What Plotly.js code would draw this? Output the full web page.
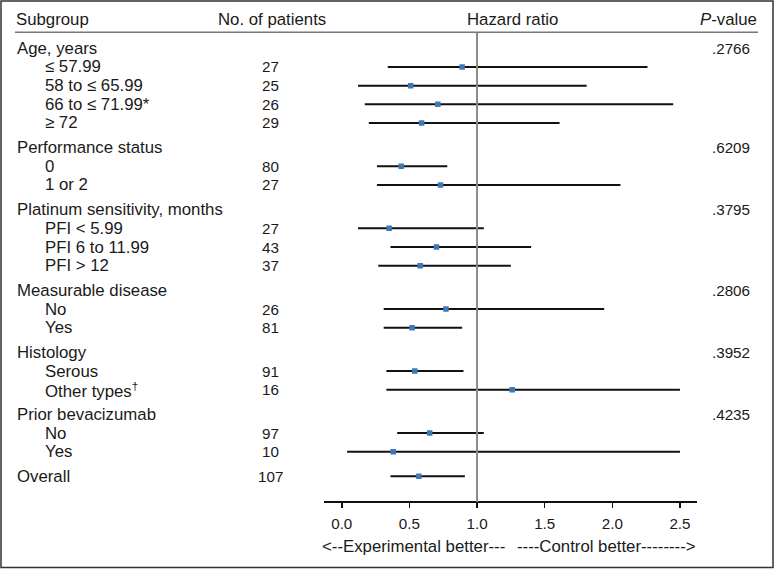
<!DOCTYPE html>
<html>
<head>
<meta charset="utf-8">
<script src="https://cdn.plot.ly/plotly-3.0.1.min.js"></script>
<style>html,body{margin:0;padding:0;background:#fff;}#chart{width:774px;height:569px;}</style>
</head>
<body>
<div id="chart"></div>
<script>
// ---- data ----
const groupNames = ['Age, years', 'Performance status', 'Platinum sensitivity, months', 'Measurable disease', 'Histology', 'Prior bevacizumab'];
const groupPValues = ['.2766', '.6209', '.3795', '.2806', '.3952', '.4235'];
const subLabels = [
  ['\u2264 57.99', '58 to \u2264 65.99', '66 to \u2264 71.99*', '\u2265 72'],
  ['0', '1 or 2'],
  ['PFI < 5.99', 'PFI 6 to 11.99', 'PFI > 12'],
  ['No', 'Yes'],
  ['Serous', 'Other types<sup>\u2020</sup>'],
  ['No', 'Yes']
];
const patients = [[27, 25, 26, 29], [80, 27], [27, 43, 37], [26, 81], [91, 16], [97, 10]];
const hazardRatio = [[0.89, 0.51, 0.71, 0.59], [0.44, 0.73], [0.35, 0.70, 0.58], [0.77, 0.52], [0.54, 1.26], [0.65, 0.38]];
const ciLower = [[0.34, 0.12, 0.17, 0.20], [0.26, 0.26], [0.12, 0.36, 0.27], [0.31, 0.31], [0.33, 0.33], [0.41, 0.04]];
const ciUpper = [[2.26, 1.81, 2.45, 1.61], [0.78, 2.06], [1.05, 1.40, 1.25], [1.94, 0.89], [0.90, 2.50], [1.05, 2.50]];
const overallLabel = 'Overall';
const overallN = 107;
const overallHR = 0.57;
const overallLower = 0.36;
const overallUpper = 0.91;
const xTickVals = [0, 0.5, 1, 1.5, 2, 2.5];
const xTickText = ['0.0', '0.5', '1.0', '1.5', '2.0', '2.5'];
const headers = {subgroup: 'Subgroup', patients: 'No. of patients', hr: 'Hazard ratio', p: '<i>P</i>-value'};
const directionLeft = '<--Experimental better---';
const directionRight = '----Control better-------->';

// ---- layout helpers ----
const W = 774, H = 569;
const ROW = 18.67;          // px per row
const GAP = 6 / ROW;        // extra gap between groups, in rows
const TOP = 48.3;           // pixel of first row
const px = v => v / W;
const py = v => 1 - v / H;
const FONT = 'Liberation Sans, Arial, sans-serif';
const LABEL_SIZE = 16.8, NUM_SIZE = 15.2;

const annotations = [];
function addText(text, x, y, xanchor, size, yref) {
  annotations.push({
    text: text, x: x, y: y, xref: 'paper', yref: yref || 'y',
    xanchor: xanchor, yanchor: 'middle', showarrow: false,
    font: {family: FONT, size: size, color: '#1a1a1a'}
  });
}

const ciX = [], ciY = [], ptX = [], ptY = [];
let pos = 0;
groupNames.forEach((g, gi) => {
  addText(g, px(15), pos, 'left', LABEL_SIZE);
  addText(groupPValues[gi], px(752), pos, 'right', NUM_SIZE);
  subLabels[gi].forEach((lab, si) => {
    pos += 1;
    addText(lab, px(43), pos, 'left', LABEL_SIZE);
    addText(String(patients[gi][si]), px(270.5), pos, 'center', NUM_SIZE);
    ciX.push(ciLower[gi][si], ciUpper[gi][si], null);
    ciY.push(pos, pos, null);
    ptX.push(hazardRatio[gi][si]);
    ptY.push(pos);
  });
  pos += 1 + GAP;
});
addText(overallLabel, px(15), pos, 'left', LABEL_SIZE);
addText(String(overallN), px(270.5), pos, 'center', NUM_SIZE);
ciX.push(overallLower, overallUpper, null);
ciY.push(pos, pos, null);
ptX.push(overallHR);
ptY.push(pos);

// headers
addText(headers.subgroup, px(14), py(20), 'left', LABEL_SIZE, 'paper');
addText(headers.patients, px(216), py(20), 'left', LABEL_SIZE, 'paper');
addText(headers.hr, px(512.6), py(20), 'center', LABEL_SIZE, 'paper');
addText(headers.p, px(759), py(20), 'right', LABEL_SIZE, 'paper');
addText(directionLeft, px(320), py(546), 'left', LABEL_SIZE, 'paper');
addText(directionRight, px(698), py(546), 'right', LABEL_SIZE, 'paper');

const traces = [
  {x: ciX, y: ciY, mode: 'lines', type: 'scatter', line: {color: '#111', width: 2}, hoverinfo: 'skip', showlegend: false},
  {x: ptX, y: ptY, mode: 'markers', type: 'scatter', marker: {symbol: 'square', size: 5.5, color: '#3f78b8'}, showlegend: false}
];

const layout = {
  width: W, height: H,
  margin: {l: 0, r: 0, t: 0, b: 0},
  paper_bgcolor: '#fff', plot_bgcolor: 'rgba(0,0,0,0)',
  showlegend: false,
  font: {family: FONT, color: '#1a1a1a'},
  xaxis: {
    domain: [px(324.3), px(697.3)],
    range: [-0.129, 2.628],
    tickvals: xTickVals, ticktext: xTickText,
    ticks: 'outside', ticklen: 5, tickwidth: 1.5, tickcolor: '#111',
    showline: true, linecolor: '#111', linewidth: 2,
    showgrid: false, zeroline: false,
    anchor: 'free', position: py(502),
    tickfont: {family: FONT, size: NUM_SIZE, color: '#1a1a1a'},
    ticklabelstandoff: 3,
    fixedrange: true
  },
  yaxis: {
    domain: [0, 1],
    range: [(H - TOP) / ROW, -TOP / ROW],
    visible: false, fixedrange: true
  },
  shapes: [
    {type: 'line', xref: 'x', yref: 'paper', x0: 1, x1: 1, y0: py(32.3), y1: py(502), line: {color: '#8a8a8a', width: 2}},
    {type: 'line', xref: 'paper', yref: 'paper', x0: px(15), x1: px(758), y0: py(32.3), y1: py(32.3), line: {color: '#777', width: 1.5}},
    {type: 'rect', xref: 'paper', yref: 'paper', x0: px(1), x1: px(773), y0: py(1), y1: py(567.5), line: {color: '#333', width: 1.5}}
  ],
  annotations: annotations
};

Plotly.newPlot('chart', traces, layout, {displayModeBar: false, staticPlot: true});
</script>
</body>
</html>
